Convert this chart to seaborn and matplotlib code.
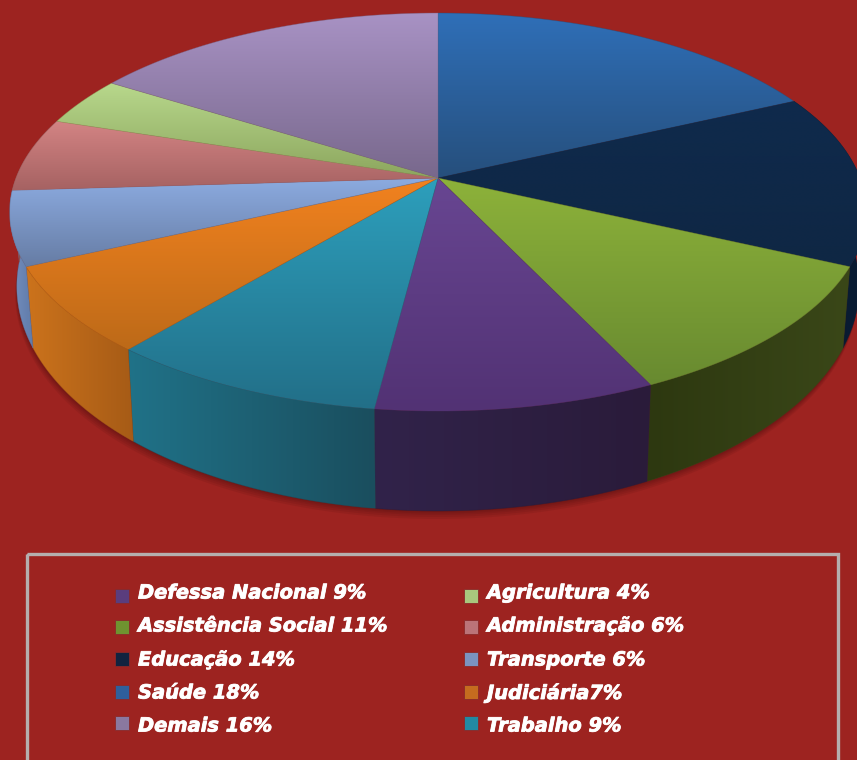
import numpy as np
import seaborn as sns
import matplotlib.pyplot as plt
import matplotlib.patheffects as pe
from matplotlib.patches import Polygon, Rectangle

# legend order
categories = ['Defessa Nacional', 'Assistência Social', 'Educação', 'Saúde', 'Demais',
              'Agricultura', 'Administração', 'Transporte', 'Judiciária', 'Trabalho']
values = [9, 11, 14, 18, 16, 4, 6, 6, 7, 9]
legend_labels = ['Defessa Nacional 9%', 'Assistência Social 11%', 'Educação 14%', 'Saúde 18%', 'Demais 16%',
                 'Agricultura 4%', 'Administração 6%', 'Transporte 6%', 'Judiciária7%', 'Trabalho 9%']
legend_colors = ['#5a3d7d', '#6f9330', '#12233f', '#2f5f9c', '#8a78a0',
                 '#a9c77d', '#bb7378', '#7b93c0', '#c56c1f', '#228aa3']

# clockwise from 12 o'clock
pie_order = ['Saúde', 'Educação', 'Assistência Social', 'Defessa Nacional', 'Trabalho',
             'Judiciária', 'Transporte', 'Administração', 'Agricultura', 'Demais']

top_colors = {
    'Saúde': ('#2f6fb8', '#264f7c'),
    'Educação': ('#0f2a4c', '#0f2744'),
    'Assistência Social': ('#8db23a', '#688a30'),
    'Defessa Nacional': ('#684692', '#523274'),
    'Trabalho': ('#2d9fbc', '#226f88'),
    'Judiciária': ('#f2821f', '#bd6a18'),
    'Transporte': ('#8cabe0', '#667ca4'),
    'Administração': ('#d38484', '#a66262'),
    'Agricultura': ('#b8d88c', '#8ca65e'),
    'Demais': ('#a892c4', '#78688c'),
}
wall_colors = {
    'Saúde': ('#16304f', '#16304f'),
    'Educação': ('#08182c', '#0a1c34'),
    'Assistência Social': ('#2d3810', '#3a4718'),
    'Defessa Nacional': ('#31234a', '#2a1b3a'),
    'Trabalho': ('#207288', '#1a4e5e'),
    'Judiciária': ('#cc731c', '#a65b16'),
    'Transporte': ('#7590c0', '#5f7aa8'),
    'Administração': ('#8a5050', '#8a5050'),
    'Agricultura': ('#70854a', '#70854a'),
    'Demais': ('#5f5070', '#5f5070'),
}

bg = '#9d2320'

sns.set_style('white')
plt.rcParams['font.family'] = ['DejaVu Sans']

fig = plt.figure(figsize=(8.57, 7.6), dpi=100, facecolor=bg)
ax = fig.add_axes([0, 0, 1, 1])
ax.set_facecolor(bg)
ax.axis('off')


def rim(frac, cx, cy, a, b, k=0.171):
    # perspective view of the pie circle, frac is share of the pie clockwise from the top
    ang = 2 * np.pi * np.asarray(frac)
    x, y = np.sin(ang), np.cos(ang)
    w = 1 + k * y
    return cx + a * x / w, cy - b * y / w


def top_rim(frac):
    return rim(frac, 438, 178, 422, 193.2)


def bottom_rim(frac):
    return rim(frac, 438, 248, 415, 218)


def fill_gradient(xs, ys, colors, z, horizontal=False):
    cmap = sns.blend_palette(colors, as_cmap=True)
    grad = np.linspace(0, 1, 256)
    grad = grad.reshape(1, -1) if horizontal else grad.reshape(-1, 1)
    poly = Polygon(np.column_stack([xs, ys]), closed=True, transform=ax.transData, fc='none', ec='none')
    ax.add_patch(poly)
    im = ax.imshow(grad, cmap=cmap, aspect='auto', interpolation='bilinear', zorder=z,
                   extent=(min(xs), max(xs), max(ys), min(ys)))
    im.set_clip_path(poly)
    # thin edge so the clip does not look jagged
    ax.fill(xs, ys, fc='none', ec=colors[-1], lw=0.5, alpha=0.5, zorder=z)


# soft shadow under the pie
ff = np.linspace(0, 1, 361)
sx, sy = bottom_rim(ff)
for off in [8, 6, 4, 2.5, 1]:
    ax.fill(sx - off * 0.2, sy + off, color='#3c0c0c', alpha=0.1, lw=0, zorder=1)

shares = dict(zip(categories, values))
edges = np.cumsum([0] + [shares[c] for c in pie_order]) / sum(values)

# side walls first, then the top
for i, c in enumerate(pie_order):
    ff = np.linspace(edges[i], edges[i + 1], 60)
    tx, ty = top_rim(ff)
    bx, by = bottom_rim(ff)
    xs = np.concatenate([tx, bx[::-1]])
    ys = np.concatenate([ty, by[::-1]])
    if np.cos(2 * np.pi * ff).min() < 0.2:
        fill_gradient(xs, ys, list(wall_colors[c]), 2, horizontal=True)

for i, c in enumerate(pie_order):
    ff = np.linspace(edges[i], edges[i + 1], 60)
    tx, ty = top_rim(ff)
    xs = np.concatenate([[438], tx])
    ys = np.concatenate([[178], ty])
    fill_gradient(xs, ys, list(top_colors[c]), 3)

# legend box, runs off the bottom of the picture
ax.add_patch(Rectangle((27, 554), 811, 230, fc='none', ec='#b5aeae', lw=2.4, zorder=4))

legend_x = [115, 464]
marker_rows = [589, 620, 652, 685, 716]
text_rows = [593, 626, 660, 693, 726]
for i, lab in enumerate(legend_labels):
    col = i // 5
    row = i % 5
    ax.add_patch(Rectangle((legend_x[col], marker_rows[row]), 14, 14, fc=legend_colors[i], ec='#8a2a2a', lw=0.6, zorder=4))
    ax.text(legend_x[col] + 23, text_rows[row], lab, color='white', fontsize=14,
            fontweight='bold', fontstyle='italic', va='center', ha='left', zorder=5,
            path_effects=[pe.withStroke(linewidth=0.6, foreground='white')])

ax.set_xlim(0, 857)
ax.set_ylim(760, 0)

fig.savefig('out.png', dpi=100, facecolor=bg)
